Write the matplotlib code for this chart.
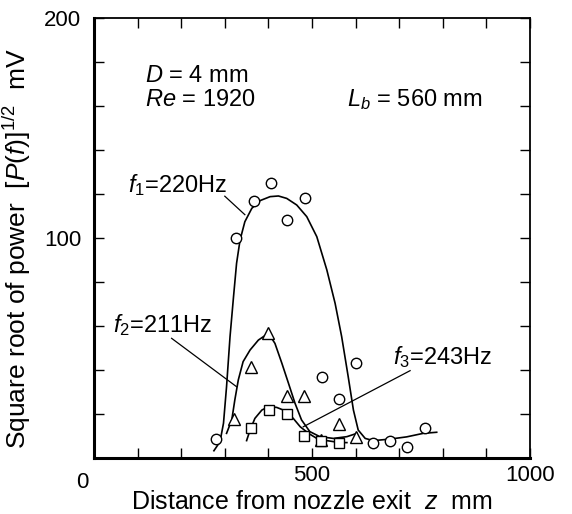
import matplotlib
matplotlib.use("Agg")
import matplotlib.pyplot as plt

plt.rcParams['font.family'] = ['Liberation Sans', 'DejaVu Sans']
plt.rcParams['mathtext.fontset'] = 'custom'
plt.rcParams['mathtext.rm'] = 'Liberation Sans'
plt.rcParams['mathtext.it'] = 'Liberation Sans:italic'

# measured amplitudes at each frequency
z_f1 = [279, 325, 366, 405, 443, 483, 522, 561, 601, 640, 680, 719, 760]
p_f1 = [8.5, 100, 117, 125, 108, 118, 37, 27, 43, 6.7, 7.9, 5.1, 13.8]

z_f2 = [320, 359, 400, 442, 481, 521, 561, 601]
p_f2 = [17.7, 41.5, 57, 28.3, 28.2, 8.2, 15.3, 9.4]

z_f3 = [359, 401, 442, 481, 521, 561]
p_f3 = [13.5, 21.8, 20, 10.1, 7.9, 7]

# hand-faired trend curves
cz_f1 = [275, 289, 297, 304, 312, 320, 327, 335, 346, 362, 381, 404, 423, 442, 465,
         488, 511, 534, 553, 568, 583, 595, 606, 622, 641, 679, 717, 755, 786]
cp_f1 = [3.3, 7.4, 15.8, 32.4, 55.2, 73.3, 88.5, 99.1, 107.4, 113.5, 117, 118.8, 119.1, 118, 115,
         109.7, 100.6, 85.5, 70.3, 55.2, 37, 21.8, 12.7, 8.9, 7.9, 8.6, 9.6, 11.2, 11.7]

cz_f2 = [304, 316, 323, 331, 342, 358, 377, 400, 415, 431, 446, 461, 476, 495, 518, 549, 580, 603]
cp_f2 = [11.2, 17.3, 26.4, 35.5, 43.8, 49.1, 53.6, 56.7, 52.1, 43, 34, 24.9, 17.3, 12, 9.7, 8.9, 9.7, 11.2]

cz_f3 = [350, 358, 369, 385, 400, 419, 438, 457, 473, 492, 511, 534, 564, 580]
cp_f3 = [7.9, 12.7, 18, 21.8, 23.3, 23, 21.5, 18, 14.2, 11.2, 8.9, 7.9, 7, 7]

fig = plt.figure(figsize=(5.72, 5.14), dpi=100)
ax = fig.add_axes([94 / 572, 56 / 514, 436 / 572, 440 / 514])

lw = 1.2
ax.plot(cz_f1, cp_f1, color='black', lw=lw)
ax.plot(cz_f2, cp_f2, color='black', lw=lw)
ax.plot(cz_f3, cp_f3, color='black', lw=lw)

mk = dict(ls='none', mfc='white', mec='black', mew=1.0)
ax.plot(z_f1, p_f1, marker='o', ms=7.5, **mk)
ax.plot(z_f2, p_f2, marker='^', ms=8, **mk)
ax.plot(z_f3, p_f3, marker='s', ms=7, **mk)

# leader lines to the curve labels
ax.plot([300, 346], [119, 110.6], color='black', lw=0.9)
ax.plot([178, 327], [54.4, 32.4], color='black', lw=0.9)
ax.plot([725, 480], [39.7, 14.2], color='black', lw=0.9)

ax.text(78, 124, r'$f_1$=220Hz', fontsize=17, va='center')
ax.text(44, 60.5, r'$f_2$=211Hz', fontsize=17, va='center')
ax.text(686, 46, r'$f_3$=243Hz', fontsize=17, va='center')

ax.text(117, 171, r'$D$ = 4 mm', fontsize=17, va='baseline')
ax.text(117, 160, r'$Re$ = 1920', fontsize=17, va='baseline')
ax.text(580, 160, r'$L_b$ = 560 mm', fontsize=17, va='baseline')

ax.set_xlim(0, 1000)
ax.set_ylim(0, 200)
ax.set_xticks([0, 500, 1000], ['', '500', '1000'])
ax.set_yticks([0, 100, 200], ['', '100', '200'])
ax.set_xticks(range(0, 1001, 100), minor=True)
ax.set_yticks(range(0, 201, 20), minor=True)
ax.tick_params(which='both', direction='in', top=True, right=True)
ax.tick_params(which='major', length=7, width=1.0, labelsize=16, pad=5)
ax.tick_params(axis='y', which='major', pad=9)
ax.tick_params(which='minor', length=7, width=1.0)
# single origin label shared by both axes
ax.text(-0.012, -0.032, '0', transform=ax.transAxes, ha='right', va='top', fontsize=16)

for side in ax.spines.values():
    side.set_linewidth(1.3)
ax.spines['left'].set_linewidth(2.2)
ax.spines['bottom'].set_linewidth(2.2)

ax.set_xlabel(r'Distance from nozzle exit  $z$  mm', fontsize=18, labelpad=3)
ax.set_ylabel(r'Square root of power  $[P(f)]^{1/2}$  mV', fontsize=19)
ax.yaxis.set_label_coords(-0.14, 0.475)

fig.savefig('out.png', dpi=100)
